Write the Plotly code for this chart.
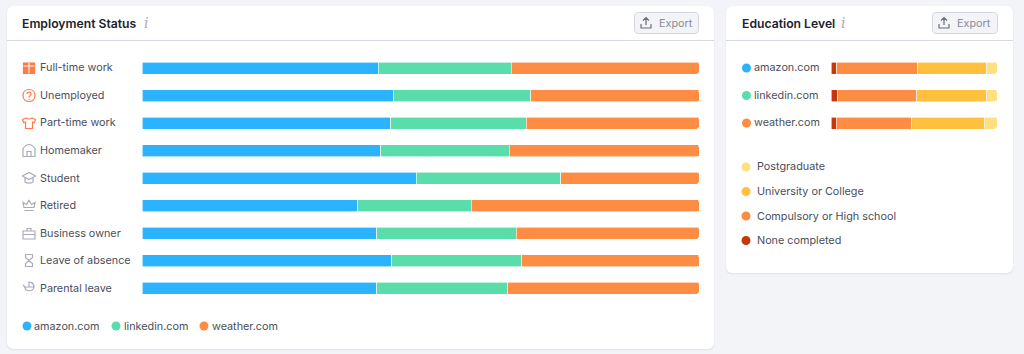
import re
import plotly.graph_objects as go

W, H = 1024, 354

employment = ["Full-time work", "Unemployed", "Part-time work", "Homemaker", "Student",
              "Retired", "Business owner", "Leave of absence", "Parental leave"]
amazon_emp = [42.4, 45.1, 44.7, 42.9, 49.2, 38.7, 42.1, 44.8, 42.1]
linkedin_emp = [23.9, 24.7, 24.3, 23.0, 26.0, 20.4, 25.1, 23.4, 23.6]
weather_emp = [33.7, 30.2, 31.0, 34.1, 24.8, 40.9, 32.8, 31.8, 34.3]

sites = ["amazon.com", "linkedin.com", "weather.com"]
site_colors = ["#2BB3FF", "#59DDAA", "#FF8C43"]

edu_levels = ["None completed", "Compulsory or High school", "University or College", "Postgraduate"]
edu_colors = ["#C4380C", "#FF8C43", "#FFC03D", "#FFDF80"]
edu_none = [3.4, 3.7, 3.3]
edu_school = [48.6, 48.0, 44.9]
edu_uni = [41.7, 42.0, 44.0]
edu_post = [6.3, 6.3, 7.8]

BG = "#F3F4F8"
TXT = "#4B4E5A"
DARK = "#20222B"
GRAY = "#A9ABB8"
ICON_OR = "#FF7A45"


def px(x):
    return x / W


def py(y):
    return 1 - y / H


def rr(x0, y0, x1, y1, r):
    pts = [("M", x0 + r, y0), ("L", x1 - r, y0), ("Q", x1, y0, x1, y0 + r), ("L", x1, y1 - r),
           ("Q", x1, y1, x1 - r, y1), ("L", x0 + r, y1), ("Q", x0, y1, x0, y1 - r),
           ("L", x0, y0 + r), ("Q", x0, y0, x0 + r, y0)]
    out = []
    for p in pts:
        nums = p[1:]
        coords = [f"{px(nums[i]):.5f},{py(nums[i+1]):.5f}" for i in range(0, len(nums), 2)]
        out.append(p[0] + " ".join(coords))
    return " ".join(out) + " Z"


def icon_path(s, cx, cy):
    parts = re.findall(r"[MLCQZ]|-?\d+\.?\d*", s)
    out, buf = [], []
    for t in parts:
        if t in "MLCQZ":
            out.append(t)
        else:
            buf.append(float(t))
            if len(buf) == 2:
                out.append(f"{px(cx + buf[0]):.5f},{py(cy + buf[1]):.5f}")
                buf = []
    return " ".join(out)


shapes = []
annots = []


def card(x0, y0, x1, y1):
    shapes.append(dict(type="path", path=rr(x0 - 0.5, y0, x1 + 0.5, y1 + 1.5, 7), xref="paper", yref="paper",
                       fillcolor="#E6E7ED", line_width=0, layer="below"))
    shapes.append(dict(type="path", path=rr(x0, y0, x1, y1, 7), xref="paper", yref="paper",
                       fillcolor="#FFFFFF", line_width=0, layer="below"))
    shapes.append(dict(type="line", x0=px(x0), x1=px(x1), y0=py(40.5), y1=py(40.5), xref="paper", yref="paper",
                       line=dict(color="#DADBE2", width=1), layer="below"))


def text(x, y, s, size=10.8, color=TXT, weight=400, anchor="left", yref="paper", italic=False, family="Inter"):
    annots.append(dict(x=px(x - 2), y=(py(y) if yref == "paper" else y), xref="paper", yref=yref, text=s, showarrow=False,
                       xanchor=anchor, yanchor="middle", align="left",
                       font=dict(family=family, size=size, color=color, weight=weight,
                                 style="italic" if italic else "normal")))


def dot(cx, cy, color, r=4.5):
    shapes.append(dict(type="circle", x0=px(cx - r), x1=px(cx + r), y0=py(cy + r), y1=py(cy - r),
                       xref="paper", yref="paper", fillcolor=color, line_width=0, layer="above"))


def header(x, title, export_x0, export_x1, info_x):
    text(x, 23, title, size=12.2, color=DARK, weight=600)
    text(info_x, 23.5, "i", size=14, color=GRAY, italic=True, family="DejaVu Serif")
    shapes.append(dict(type="path", path=rr(export_x0, 12.5, export_x1, 33.5, 4), xref="paper", yref="paper",
                       fillcolor="#F3F4F7", line=dict(color="#D4D5DC", width=1), layer="below"))
    ix = export_x0 + 11.5
    shapes.append(dict(type="path", path=icon_path("M-5,1 L-5,5 L5,5 L5,1 M0,2 L0,-5 M-3,-2.5 L0,-5.5 L3,-2.5", ix, 23),
                       xref="paper", yref="paper", line=dict(color="#6C6E79", width=1.2), layer="above"))
    text(export_x0 + 24, 23, "Export", size=10.8, color="#8A8C98")


card(7, 6, 714, 349)
card(726, 6, 1013, 273)
header(22, "Employment Status", 634.5, 698.5, 144)
header(742, "Education Level", 932.5, 997.5, 841)

icons = [
    (ICON_OR, "M-5.5,-5 L5.5,-5 L5.5,5.5 L-5.5,5.5 Z", True),
    (ICON_OR, "M-2,-1.5 C-2,-4 2,-4 2,-1.5 C2,0.3 0,0.3 0,2 M0,3.6 L0,4.4 M6,0 C6,8 -6,8 -6,0 C-6,-8 6,-8 6,0 Z", False),
    (ICON_OR, "M-3,-5 L-6.5,-3.5 L-5.5,-0.5 L-3.5,-1 L-3.5,5.5 L3.5,5.5 L3.5,-1 L5.5,-0.5 L6.5,-3.5 L3,-5 Q0,-3 -3,-5 Z", False),
    (GRAY, "M-6,6 L-6,-2 Q-3,-6 0,-6 Q3,-6 6,-2 L6,6 Z M-2,6 L-2,1 L2,1 L2,6", False),
    (GRAY, "M-6.5,-2 L0,-5.5 L6.5,-2 L0,1.5 Z M-4,0 L-4,4 Q0,6.5 4,4 L4,0", False),
    (GRAY, "M-5,2 L-6,-3 L-2.5,-1 L0,-5 L2.5,-1 L6,-3 L5,2 Z M-4.5,5 L4.5,5", False),
    (GRAY, "M-6,-2 L6,-2 L6,6 L-6,6 Z M-2,-2 L-2,-4.5 L2,-4.5 L2,-2 M-6,1.5 L6,1.5", False),
    (GRAY, "M-4,-6 L4,-6 M-4,6 L4,6 M-3.5,-6 L-3.5,-3 L3.5,3 L3.5,6 M3.5,-6 L3.5,-3 L-3.5,3 L-3.5,6", False),
    (GRAY, "M-5,-1 L5,-1 C5,-6 0,-6 0,-6 L0,-1 M-6,-3 L-4,-1 C-4,4 4,4 5,-1 M-3,6 L-2.5,6 M2.5,6 L3,6", False),
]
STEP = 27.5
for i, (name, (col, p, filled)) in enumerate(zip(employment, icons)):
    cy = 68 + i * STEP
    shapes.append(dict(type="path", path=icon_path(p, 29, cy), xref="paper", yref="paper",
                       fillcolor=col if filled else "rgba(0,0,0,0)", line=dict(color=col, width=1.2), layer="above"))
    if filled:
        shapes.append(dict(type="path", path=icon_path("M0,-5 L0,5.5 M-5.5,-2 L5.5,-2", 29, cy), xref="paper", yref="paper",
                           line=dict(color="#FFFFFF", width=1), layer="above"))
    text(40, 0, name, yref="y")
    annots[-1]["y"] = name

for i, site in enumerate(sites):
    dot(746.5, 68 + i * STEP, site_colors[i])
    text(754, 0, site, yref="y2")
    annots[-1]["y"] = site

for x, cx, site, col in zip([34, 124, 212], [27, 116, 204], sites, site_colors):
    dot(cx, 326, col)
    text(x, 326, site)

for y, name, col in zip([167, 191.5, 216, 240.5], edu_levels[::-1], edu_colors[::-1]):
    dot(746, y, col)
    text(757, y, name)

fig = go.Figure()
for name, vals, col in zip(sites, [amazon_emp, linkedin_emp, weather_emp], site_colors):
    fig.add_bar(y=employment, x=vals, name=name, orientation="h", marker=dict(color=col, line=dict(color="#FFFFFF", width=0.6)),
                xaxis="x", yaxis="y", showlegend=False)
for name, vals, col in zip(edu_levels, [edu_none, edu_school, edu_uni, edu_post], edu_colors):
    fig.add_bar(y=sites, x=vals, name=name, orientation="h", marker=dict(color=col, line=dict(color="#FFFFFF", width=0.6)),
                xaxis="x2", yaxis="y2", showlegend=False)

fig.update_layout(
    width=W, height=H, margin=dict(l=0, r=0, t=0, b=0), autosize=False,
    paper_bgcolor=BG, plot_bgcolor="rgba(0,0,0,0)",
    barmode="stack", bargap=1 - 12 / STEP, barcornerradius=2,
    font=dict(family="Inter", color=TXT),
    xaxis=dict(domain=[px(142), px(699)], range=[0, 100], visible=False, fixedrange=True),
    yaxis=dict(domain=[py(68 + 8.5 * STEP), py(68 - 0.5 * STEP)], autorange="reversed", visible=False, anchor="x"),
    xaxis2=dict(domain=[px(831), px(997)], range=[0, 100], visible=False, fixedrange=True, anchor="y2"),
    yaxis2=dict(domain=[py(68 + 2.5 * STEP), py(68 - 0.5 * STEP)], autorange="reversed", visible=False, anchor="x2"),
    shapes=shapes, annotations=annots,
)
fig.write_html("out.html", config={"displayModeBar": False},
               post_script="document.body.style.margin='0';document.body.style.overflow='hidden';")
